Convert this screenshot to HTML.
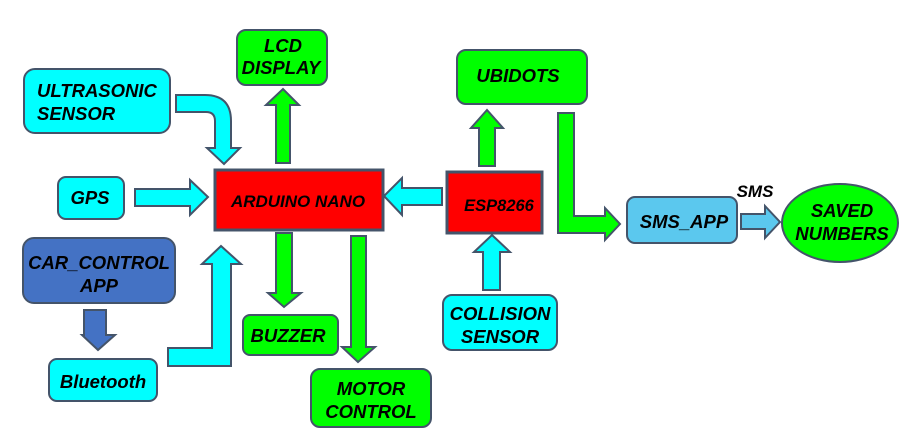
<!DOCTYPE html>
<html><head><meta charset="utf-8"><style>
html,body{margin:0;padding:0;background:#fff;}
svg{display:block;}
text{font-family:"Liberation Sans",Arial,sans-serif;font-weight:bold;font-style:italic;fill:#000;}
</style></head><body>
<svg width="911" height="447" viewBox="0 0 911 447" xmlns="http://www.w3.org/2000/svg">
<g stroke="#44546a" stroke-width="2">
<rect x="24" y="69" width="146" height="64" rx="11" fill="#00ffff"/>
<rect x="237" y="30" width="90" height="55" rx="9" fill="#00ff00"/>
<rect x="58" y="177" width="66" height="42" rx="8" fill="#00ffff"/>
<rect x="215" y="170" width="168" height="60" fill="#ff0000" stroke-width="3"/>
<rect x="23" y="238" width="152" height="65" rx="11" fill="#4472c4"/>
<rect x="49" y="359" width="108" height="42" rx="8" fill="#00ffff"/>
<rect x="243" y="315" width="95" height="40" rx="7" fill="#00ff00"/>
<rect x="311" y="369" width="120" height="58" rx="9" fill="#00ff00"/>
<rect x="457" y="50" width="130" height="54" rx="9" fill="#00ff00"/>
<rect x="447" y="172" width="95" height="61" fill="#ff0000" stroke-width="3"/>
<rect x="443" y="295" width="114" height="55" rx="9" fill="#00ffff"/>
<rect x="627" y="197" width="110" height="46" rx="8" fill="#5bc8ee"/>
<ellipse cx="840" cy="223" rx="58" ry="39" fill="#00ff00"/>
<path d="M176 95 H205 Q231 95 231 121 V148 H240 L224 164 L207 148 H215 V121 Q215 112 206 112 H176 Z" fill="#00ffff"/>
<path d="M276 163 V105 H266 L283 89 L299 105 H290 V163 Z" fill="#00ff00"/>
<path d="M135 189 H190 V180 L208 197 L190 215 V206 H135 Z" fill="#00ffff"/>
<path d="M168 348 H212 V264 H202 L221 246 L241 264 H231 V366 H168 Z" fill="#00ffff"/>
<path d="M84 310 H106 V335 H115 L98 350 L82 335 H84 Z" fill="#4472c4"/>
<path d="M276 233 H292 V293 H301 L284 307 L268 293 H276 Z" fill="#00ff00"/>
<path d="M351 236 H366 V347 H375 L358 362 L342 347 H351 Z" fill="#00ff00"/>
<path d="M442 188 V205 H402 V215 L384 196 L402 178 V188 Z" fill="#00ffff"/>
<path d="M479 166 V128 H471 L487 110 L503 128 H495 V166 Z" fill="#00ff00"/>
<path d="M483 290 V252 H474 L492 235 L510 252 H500 V290 Z" fill="#00ffff"/>
<path d="M558 113 H574 V216 H605 V208 L620 224 L605 240 V233 H558 Z" fill="#00ff00"/>
<path d="M741 214 H765 V206 L780 222 L765 238 V229 H741 Z" fill="#5bc8ee"/>
</g>
<g font-size="18.5">
<text x="37" y="97">ULTRASONIC</text>
<text x="37" y="120">SENSOR</text>
<text x="283" y="52" text-anchor="middle">LCD</text>
<text x="281" y="74" text-anchor="middle">DISPLAY</text>
<text x="90" y="204" text-anchor="middle">GPS</text>
<text x="99" y="269" text-anchor="middle">CAR_CONTROL</text>
<text x="99" y="292" text-anchor="middle">APP</text>
<text x="103" y="388" text-anchor="middle">Bluetooth</text>
<text x="288" y="342" text-anchor="middle">BUZZER</text>
<text x="371" y="395" text-anchor="middle">MOTOR</text>
<text x="371" y="418" text-anchor="middle">CONTROL</text>
<text x="518" y="82" text-anchor="middle">UBIDOTS</text>
<text x="500" y="320" text-anchor="middle">COLLISION</text>
<text x="500" y="343" text-anchor="middle">SENSOR</text>
<text x="684" y="228" text-anchor="middle">SMS_APP</text>
<text x="842" y="217" text-anchor="middle">SAVED</text>
<text x="842" y="240" text-anchor="middle">NUMBERS</text>
</g>
<text x="298" y="207" font-size="17" text-anchor="middle">ARDUINO NANO</text>
<text x="499" y="211" font-size="16.5" text-anchor="middle">ESP8266</text>
<text x="755" y="197" font-size="17" text-anchor="middle">SMS</text>
</svg>
</body></html>
